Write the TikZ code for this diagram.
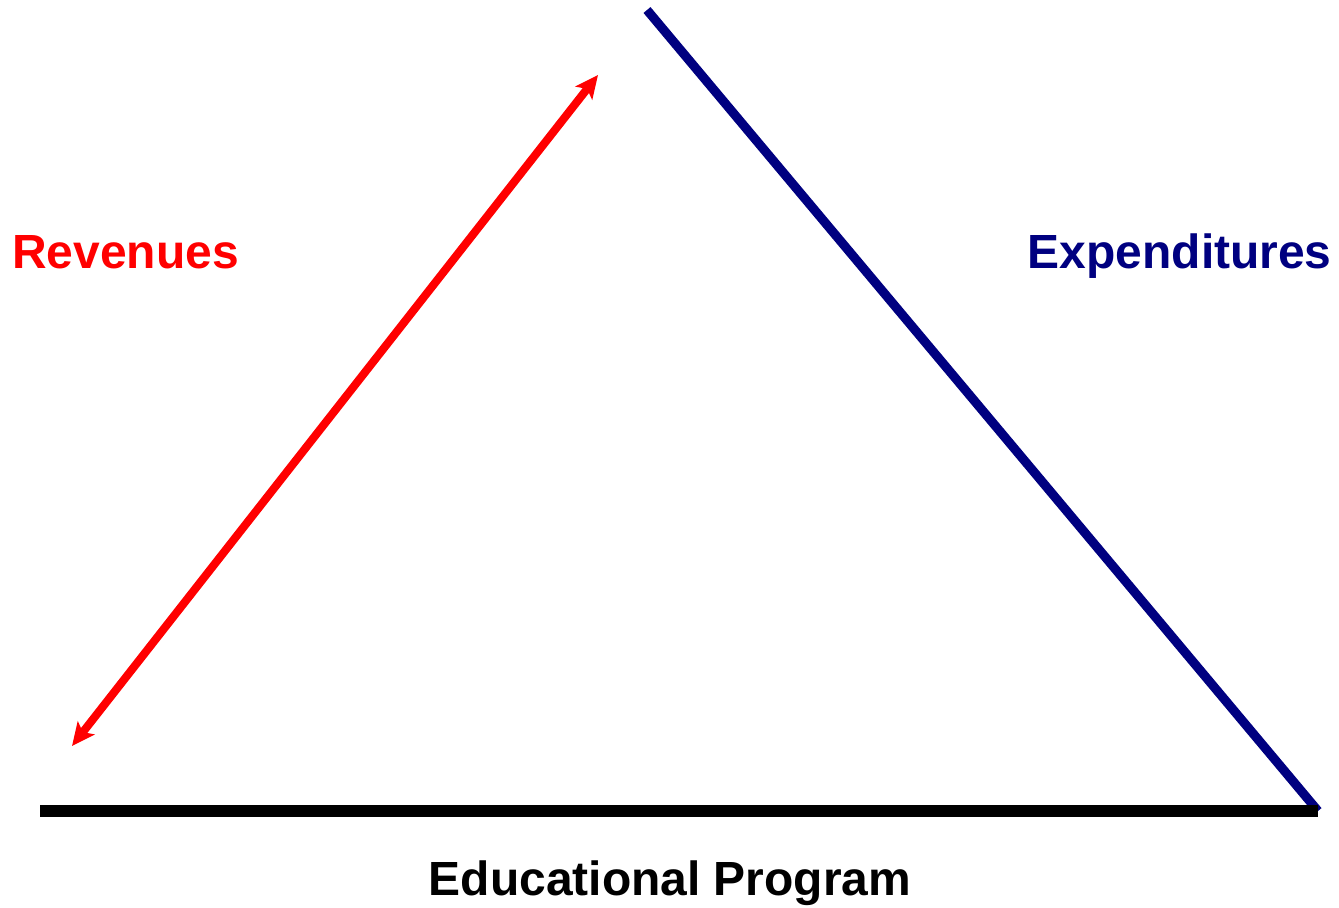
\documentclass[tikz,border=0pt]{standalone}
\usepackage{fontspec}
\setmainfont{Liberation Sans}
\definecolor{revred}{RGB}{255, 0, 0}
\definecolor{expblue}{RGB}{0, 0, 128}
\usetikzlibrary{arrows.meta}

\begin{document}
\begin{tikzpicture}[x=0.02cm, y=-0.02cm,
    label/.style={font=\fontsize{27.3}{30}\selectfont\bfseries, inner sep=0pt}]
        \useasboundingbox (0,0) rectangle (1339,907);

        % Corners
        \coordinate (revlow) at (72,746);
        \coordinate (revtop) at (598,75);
        \coordinate (exptop) at (647,10);
        \coordinate (baseleft) at (40,811);
        \coordinate (baseright) at (1318,811);

        % Lines
        \draw[revred, line width=4.6pt, {Stealth[length=13pt,width=12pt,inset=3pt]}-{Stealth[length=13pt,width=12pt,inset=3pt]}] (revlow) -- (revtop);
        \draw[expblue, line width=5.2pt] (exptop) -- (baseright);
        \draw[black, line width=6.3pt] (baseleft) -- (baseright);

        % Labels
        \node[label, text=revred, anchor=base west] (revenues) at (12,268) {Revenues};
        \node[label, text=expblue, anchor=base east] (expenditures) at (1332,268) {Expenditures};
        \node[label, text=black, anchor=base] (program) at (670,895) {Educational Program};
    \end{tikzpicture}
\end{document}
